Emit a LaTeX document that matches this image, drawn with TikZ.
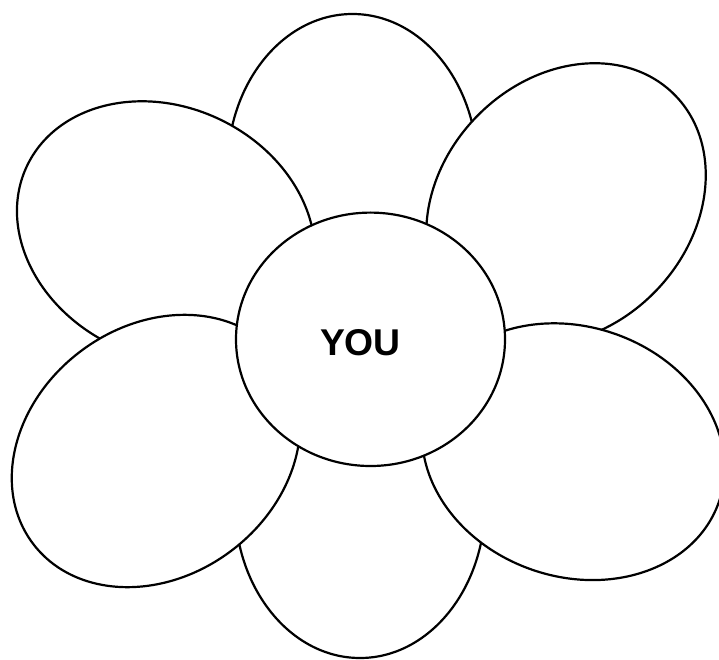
\documentclass[tikz,border=0pt]{standalone}
\usepackage{fontspec}
\setmainfont{Liberation Sans}
\usetikzlibrary{shapes.geometric}
\tikzset{
  petal/.style={ellipse, draw=black, fill=white, line width=2.2pt, inner sep=0pt, outer sep=0pt,
    minimum width=308pt, minimum height=250pt},
  heart/.style={ellipse, draw=black, fill=white, line width=2.2pt, inner sep=0pt, outer sep=0pt,
    minimum width=269pt, minimum height=253.4pt},
  label/.style={font=\bfseries\fontsize{37.3}{40}\selectfont, inner sep=0pt}
}
\begin{document}
\begin{tikzpicture}[x=1pt,y=-1pt]
\useasboundingbox (0,0) rectangle (719,660);
\clip (0,0) rectangle (719,660);
% back petals
\node[petal, rotate=90] (ptop) at (352.5,168) {};
\node[petal, rotate=90] (pbot) at (360,504) {};
% upper side petals
\node[petal, rotate=-25.6] (pul) at (166,232.2) {};
\node[petal, rotate=46] (pur) at (566,204) {};
% lower side petals
\node[petal, rotate=36.9] (pll) at (156,451) {};
\node[petal, rotate=-18.9] (plr) at (573.3,451.7) {};
% centre
\node[heart] (core) at (370.5,339.3) {};
\node[label] (you) at (360.5,342.7) {YOU};
\end{tikzpicture}
\end{document}
